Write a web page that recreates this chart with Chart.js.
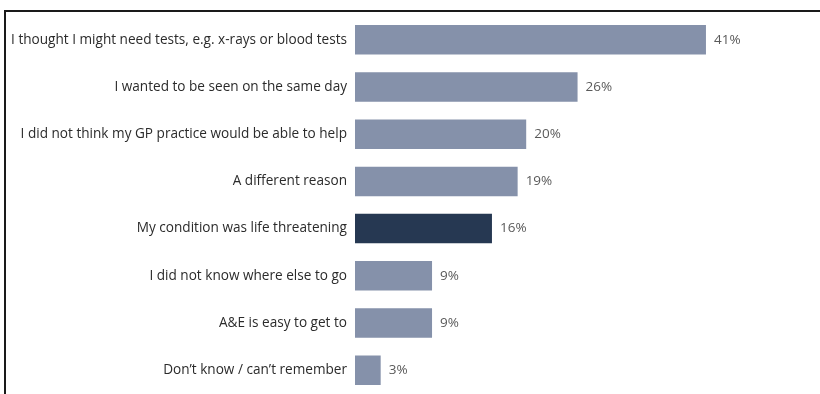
<!DOCTYPE html>
<html lang="en">
<head>
  <meta charset="UTF-8">
  <title>Reasons for attending A&amp;E</title>
  <script src="https://cdn.jsdelivr.net/npm/chart.js"></script>
  <style>
    html, body { margin: 0; padding: 0; background: #fff; overflow: hidden; }
    .frame {
      position: absolute; left: 4px; top: 10px; right: -4px; bottom: -20px;
      border-top: 2px solid #1a1a1a; border-left: 2px solid #1a1a1a;
    }
    .wrap { position: absolute; left: 0; top: 0; width: 820px; height: 410px; }
  </style>
</head>
<body>
  <div class="frame"></div>
  <div class="wrap"><canvas id="reasonsChart"></canvas></div>

  <script>
    // answers and share of respondents (%)
    const reasons = [
      'I thought I might need tests, e.g. x-rays or blood tests',
      'I wanted to be seen on the same day',
      'I did not think my GP practice would be able to help',
      'A different reason',
      'My condition was life threatening',
      'I did not know where else to go',
      'A&E is easy to get to',
      'Don\u2019t know / can\u2019t remember'
    ];
    const shares = [41, 26, 20, 19, 16, 9, 9, 3];
    const highlighted = 'My condition was life threatening';

    const barColours = reasons.map(r => r === highlighted ? '#263852' : '#8591aa');

    // percentage written just past the end of each bar
    const valueLabels = {
      id: 'valueLabels',
      afterDatasetsDraw(chart) {
        const ctx = chart.ctx;
        const meta = chart.getDatasetMeta(0);
        ctx.save();
        ctx.font = '13.5px "Open Sans", sans-serif';
        ctx.fillStyle = '#5a5a5a';
        ctx.textAlign = 'left';
        ctx.textBaseline = 'middle';
        meta.data.forEach((bar, i) => {
          ctx.fillText(shares[i] + '%', bar.x + 8, bar.y);
        });
        ctx.restore();
      }
    };

    new Chart(document.getElementById('reasonsChart'), {
      type: 'bar',
      data: {
        labels: reasons,
        datasets: [{
          data: shares,
          backgroundColor: barColours,
          categoryPercentage: 1,
          barPercentage: 0.625
        }]
      },
      options: {
        indexAxis: 'y',
        responsive: true,
        maintainAspectRatio: false,
        animation: false,
        layout: { padding: { top: 15, bottom: 11, left: 0, right: 37 } },
        plugins: { legend: { display: false }, tooltip: { enabled: false } },
        scales: {
          x: { display: false, min: 0, max: 50 },
          y: {
            afterFit: s => { s.width = 355; },
            grid: { display: false, drawTicks: false },
            border: { display: false },
            ticks: {
              padding: 8,
              color: '#2b2b2b',
              font: { family: '"Open Sans", sans-serif', size: 13.6 }
            }
          }
        }
      },
      plugins: [valueLabels]
    });
  </script>
</body>
</html>
